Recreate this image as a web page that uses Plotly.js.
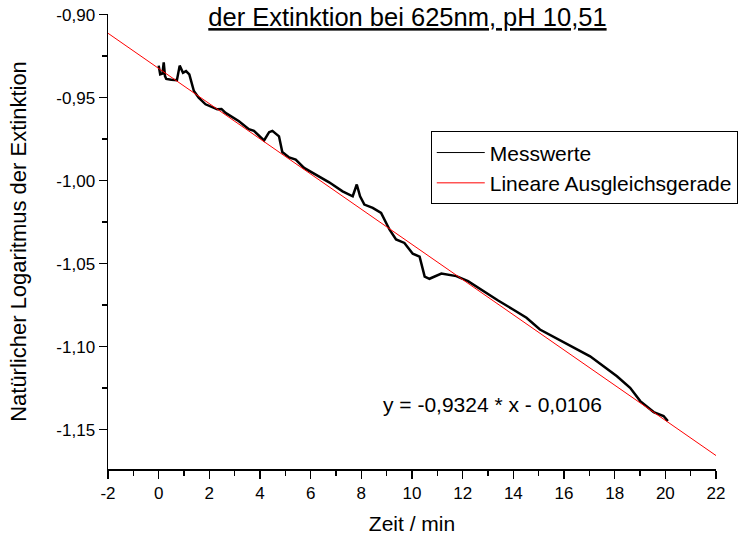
<!DOCTYPE html>
<html>
<head>
<meta charset="utf-8">
<script src="https://cdn.plot.ly/plotly-3.0.1.min.js"></script>
<style>html,body{margin:0;padding:0;background:#fff;}#chart{width:749px;height:536px;}</style>
</head>
<body>
<div id="chart"></div>
<script>
// Messwerte (Zeit / min, ln E)
const timeMin = [0.00, 0.06, 0.15, 0.20, 0.25, 0.30, 0.50, 0.72, 0.83, 0.96, 1.08, 1.21, 1.39, 1.58, 1.85, 2.31, 2.48, 2.64, 3.17, 3.56, 3.76, 4.16, 4.36, 4.49, 4.75, 4.88, 5.15, 5.41, 5.74, 6.21, 6.73, 7.26, 7.66, 7.82, 7.95, 8.12, 8.45, 8.78, 9.11, 9.37, 9.70, 10.03, 10.30, 10.50, 10.69, 11.16, 11.75, 12.21, 12.81, 13.40, 13.99, 14.52, 15.05, 15.78, 16.50, 17.03, 17.56, 18.09, 18.61, 19.01, 19.54, 19.93, 20.10];
const lnExt = [-0.9307, -0.9360, -0.9355, -0.9287, -0.9370, -0.9387, -0.9392, -0.9395, -0.9307, -0.9350, -0.9340, -0.9360, -0.9460, -0.9500, -0.9540, -0.9570, -0.9568, -0.9592, -0.9642, -0.9690, -0.9700, -0.9758, -0.9708, -0.9700, -0.9733, -0.9828, -0.9860, -0.9873, -0.9923, -0.9963, -1.0010, -1.0064, -1.0094, -1.0023, -1.0094, -1.0144, -1.0164, -1.0194, -1.0294, -1.0354, -1.0375, -1.0440, -1.0458, -1.0578, -1.0591, -1.0560, -1.0575, -1.0605, -1.0665, -1.0722, -1.0776, -1.0826, -1.0897, -1.0958, -1.1018, -1.1058, -1.1118, -1.1178, -1.1248, -1.1328, -1.1394, -1.1418, -1.1448];
// Lineare Ausgleichsgerade endpoints
const fitX = [-2, 22];
const fitY = [-0.9112, -1.1656];
const seriesNames = ['Messwerte', 'Lineare Ausgleichsgerade'];
const xTicks = [-2, 0, 2, 4, 6, 8, 10, 12, 14, 16, 18, 20, 22];
const xTickText = ['-2', '0', '2', '4', '6', '8', '10', '12', '14', '16', '18', '20', '22'];
const yTicks = [-0.90, -0.95, -1.00, -1.05, -1.10, -1.15];
const yTickText = ['-0,90', '-0,95', '-1,00', '-1,05', '-1,10', '-1,15'];

const FONT = 'Liberation Sans, Arial, sans-serif';

const data = [
  {x: timeMin, y: lnExt, mode: 'lines', line: {color: '#000', width: 2.5}, showlegend: false, hoverinfo: 'skip'},
  {x: fitX, y: fitY, mode: 'lines', line: {color: '#ff0000', width: 1}, showlegend: false, hoverinfo: 'skip'},
  {x: [null], y: [null], mode: 'lines', name: seriesNames[0], line: {color: '#000', width: 1}},
  {x: [null], y: [null], mode: 'lines', name: seriesNames[1], line: {color: '#ff0000', width: 1}}
];

const axisCommon = {
  showgrid: false, zeroline: false, showline: true, linecolor: '#000', linewidth: 1.5,
  ticks: 'outside', ticklen: 8, tickwidth: 1.5, tickcolor: '#000',
  tickfont: {family: FONT, size: 17, color: '#000'},
  mirror: false
};

const layout = {
  width: 749, height: 536,
  margin: {l: 108, r: 32, t: 14, b: 67},
  paper_bgcolor: '#fff', plot_bgcolor: '#fff',
  separators: ',.',
  font: {family: FONT, color: '#000'},
  title: {
    text: '<u>der Extinktion bei 625nm, pH 10,51</u>',
    font: {family: FONT, size: 25.5, color: '#000'},
    x: 0.544, xanchor: 'center', xref: 'container',
    y: 0.968, yanchor: 'middle', yref: 'container'
  },
  xaxis: Object.assign({}, axisCommon, {
    range: [-2, 22], tickvals: xTicks, ticktext: xTickText,
    minor: {dtick: 1, tick0: -2, ticks: 'outside', ticklen: 5, tickwidth: 1.5, tickcolor: '#000'},
    title: {text: 'Zeit / min', font: {family: FONT, size: 21, color: '#000'}, standoff: 14}
  }),
  yaxis: Object.assign({}, axisCommon, {
    range: [-1.1737, -0.8996], tickvals: yTicks, ticktext: yTickText,
    minor: {dtick: 0.025, tick0: -0.9, ticks: 'outside', ticklen: 5, tickwidth: 1.5, tickcolor: '#000'},
    title: {text: 'Natürlicher Logaritmus der Extinktion', font: {family: FONT, size: 22, color: '#000'}, standoff: 23}
  }),
  legend: {
    x: 0.53, xanchor: 'left', y: 0.742, yanchor: 'top',
    bgcolor: '#fff', bordercolor: '#000', borderwidth: 1,
    font: {family: FONT, size: 21, color: '#000'},
    itemwidth: 48, tracegroupgap: 0
  },
  annotations: [{
    text: 'y = -0,9324 * x - 0,0106', xref: 'paper', yref: 'paper',
    x: (493 - 108) / 609, y: 1 - (404 - 14) / 455, xanchor: 'center', yanchor: 'middle',
    showarrow: false, font: {family: FONT, size: 21, color: '#000'}
  }]
};

Plotly.newPlot('chart', data, layout, {staticPlot: true, displayModeBar: false});
</script>
</body>
</html>
